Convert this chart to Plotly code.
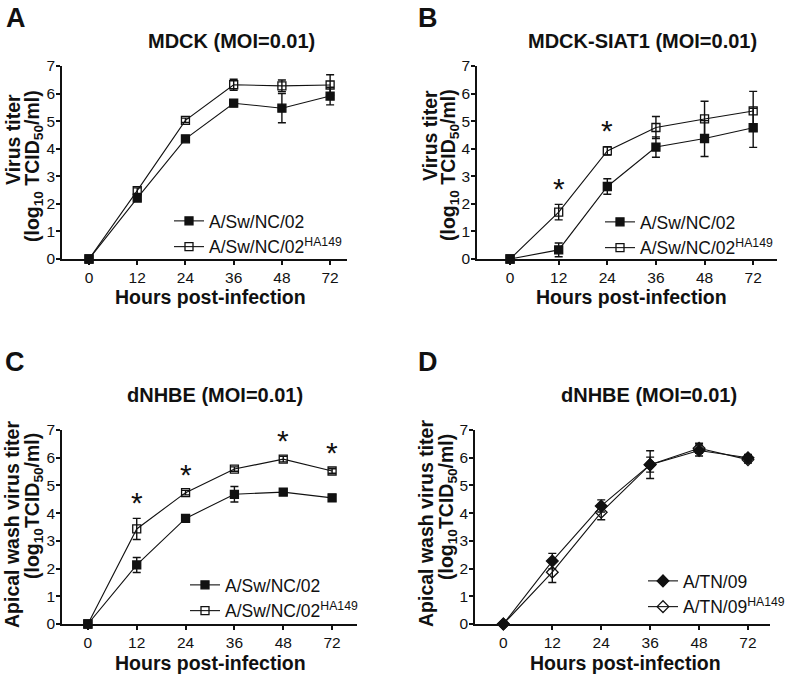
import plotly.graph_objects as go

W, H = 787, 676

# ---------------- data ----------------
hours = ["0", "12", "24", "36", "48", "72"]

# Panel A: MDCK
A_wt = [0, 2.21, 4.36, 5.65, 5.47, 5.91]
A_wt_err = [0.05, 0.08, 0.08, 0.12, 0.53, 0.32]
A_ha = [0, 2.48, 5.03, 6.32, 6.28, 6.31]
A_ha_err = [0.05, 0.10, 0.08, 0.20, 0.21, 0.37]

# Panel B: MDCK-SIAT1
B_wt = [0, 0.33, 2.63, 4.06, 4.37, 4.76]
B_wt_err = [0.05, 0.25, 0.28, 0.37, 0.65, 0.71]
B_ha = [0, 1.70, 3.92, 4.77, 5.08, 5.37]
B_ha_err = [0.05, 0.28, 0.15, 0.40, 0.64, 0.71]
B_sig = [1, 2]

# Panel C: dNHBE, A/Sw/NC/02
C_wt = [0, 2.13, 3.81, 4.68, 4.76, 4.55]
C_wt_err = [0.05, 0.27, 0.07, 0.28, 0.10, 0.12]
C_ha = [0, 3.43, 4.74, 5.59, 5.95, 5.52]
C_ha_err = [0.05, 0.38, 0.08, 0.08, 0.10, 0.08]
C_sig = [1, 2, 4, 5]

# Panel D: dNHBE, A/TN/09
D_wt = [0, 2.27, 4.26, 5.75, 6.26, 6.00]
D_wt_err = [0.05, 0.28, 0.22, 0.27, 0.20, 0.12]
D_ha = [0, 1.87, 4.03, 5.75, 6.34, 5.93]
D_ha_err = [0.05, 0.37, 0.27, 0.50, 0.18, 0.12]

names_sw = ["A/Sw/NC/02", "A/Sw/NC/02<sup>HA149</sup>"]
names_tn = ["A/TN/09", "A/TN/09<sup>HA149</sup>"]
titles = ["MDCK (MOI=0.01)", "MDCK-SIAT1 (MOI=0.01)", "dNHBE (MOI=0.01)", "dNHBE (MOI=0.01)"]
ytitles = [["Virus titer", "(log<sub>10</sub> TCID<sub>50</sub>/ml)"],
           ["Virus titer", "(log<sub>10</sub> TCID<sub>50</sub>/ml)"],
           ["Apical wash virus titer", "(log<sub>10</sub>TCID<sub>50</sub>/ml)"],
           ["Apical wash virus titer", "(log<sub>10</sub>TCID<sub>50</sub>/ml)"]]
xtitle = "Hours post-infection"
letters = ["A", "B", "C", "D"]

FONT = "Liberation Sans, Arial, Helvetica, sans-serif"
INK = "#111111"

def fx(px):
    return px / W

def fy(py):
    return 1 - py / H

# layout per panel (pixels)
panels = [
    dict(x0=62, x1=347, ytop=66, ybot=259, xr=[-0.56, 5.35],
         series=[(A_wt, A_wt_err), (A_ha, A_ha_err)], names=names_sw, sym=["square", "square-open"],
         sig=[], title_xy=(232, 41), letter_xy=(16, 18), yt=[(13, 140), (33, 166)],
         xt_xy=(210, 297), leg_xy=(169, 203)),
    dict(x0=477, x1=777, ytop=66, ybot=259, xr=[-0.68, 5.49],
         series=[(B_wt, B_wt_err), (B_ha, B_ha_err)], names=names_sw, sym=["square", "square-open"],
         sig=B_sig, title_xy=(642, 41), letter_xy=(428, 18), yt=[(430, 136), (450, 165)],
         xt_xy=(631, 297), leg_xy=(600, 204)),
    dict(x0=62, x1=357, ytop=430, ybot=624, xr=[-0.53, 5.51],
         series=[(C_wt, C_wt_err), (C_ha, C_ha_err)], names=names_sw, sym=["square", "square-open"],
         sig=C_sig, title_xy=(215, 395), letter_xy=(15, 362), yt=[(12, 525), (33, 506)],
         xt_xy=(210, 663), leg_xy=(185, 567)),
    dict(x0=475, x1=770, ytop=430, ybot=624, xr=[-0.58, 5.45],
         series=[(D_wt, D_wt_err), (D_ha, D_ha_err)], names=names_tn, sym=["diamond", "diamond-open"],
         sig=[], title_xy=(649, 395), letter_xy=(428, 362), yt=[(426, 524), (447, 507)],
         xt_xy=(625, 663), leg_xy=(643, 563)),
]

fig = go.Figure()
annotations = []
layout = dict(
    width=W, height=H, margin=dict(l=0, r=0, t=0, b=0, autoexpand=False),
    paper_bgcolor="white", plot_bgcolor="white", showlegend=True,
    font=dict(family=FONT, color=INK),
)

xpos = list(range(len(hours)))

for i, p in enumerate(panels):
    k = "" if i == 0 else str(i + 1)
    xa, ya = "x" + k, "y" + k
    leg = "legend" + k
    for j, (vals, errs) in enumerate(p["series"]):
        msize = 8 if "square" in p["sym"][j] else 9
        fig.add_trace(go.Scatter(
            x=xpos, y=vals, xaxis=xa, yaxis=ya, legend=leg,
            name=p["names"][j], mode="lines+markers", cliponaxis=False,
            line=dict(color=INK, width=1.1),
            marker=dict(symbol=p["sym"][j], size=msize, color=INK,
                        line=dict(color=INK, width=1.3)),
            error_y=dict(type="data", array=errs, visible=True, color=INK,
                         thickness=1.4, width=4),
        ))
    # significance asterisks above the HA149 series
    ha_vals, ha_err = p["series"][1]
    for idx in p["sig"]:
        annotations.append(dict(
            x=xpos[idx], y=ha_vals[idx] + ha_err[idx] + 0.8, xref=xa, yref=ya,
            text="*", showarrow=False, yshift=-6,
            font=dict(family=FONT, size=30, color=INK), xanchor="center", yanchor="middle"))
    axis_common = dict(showline=True, linecolor=INK, linewidth=1.5, ticks="outside",
                       ticklen=4, tickwidth=1.5, tickcolor=INK, showgrid=False, zeroline=False,
                       tickfont=dict(family=FONT, size=15.5, color=INK), fixedrange=True)
    layout["xaxis" + k] = dict(domain=[fx(p["x0"]), fx(p["x1"])], range=p["xr"], anchor=ya,
                               tickmode="array", tickvals=xpos, ticktext=hours, **axis_common)
    layout["yaxis" + k] = dict(domain=[fy(p["ybot"]), fy(p["ytop"])], range=[0, 7], anchor=xa,
                               tickmode="linear", tick0=0, dtick=1, ticklabelstandoff=-2, **axis_common)
    layout[leg] = dict(x=fx(p["leg_xy"][0]), y=fy(p["leg_xy"][1]), xanchor="left", yanchor="top",
                       bgcolor="rgba(0,0,0,0)", borderwidth=0, tracegroupgap=0,
                       font=dict(family=FONT, size=17.5, color=INK))
    # title
    annotations.append(dict(x=fx(p["title_xy"][0]), y=fy(p["title_xy"][1]), xref="paper", yref="paper",
                            text="<b>%s</b>" % titles[i], showarrow=False, xanchor="center", yanchor="middle",
                            font=dict(family=FONT, size=20, color=INK)))
    # panel letter
    annotations.append(dict(x=fx(p["letter_xy"][0]), y=fy(p["letter_xy"][1]), xref="paper", yref="paper",
                            text="<b>%s</b>" % letters[i], showarrow=False, xanchor="center", yanchor="middle",
                            font=dict(family=FONT, size=27, color=INK)))
    # x axis title
    annotations.append(dict(x=fx(p["xt_xy"][0]), y=fy(p["xt_xy"][1]), xref="paper", yref="paper",
                            text="<b>%s</b>" % xtitle, showarrow=False, xanchor="center", yanchor="middle",
                            font=dict(family=FONT, size=19.5, color=INK)))
    # y axis title (two lines)
    for (tx, ty), t in zip(p["yt"], ytitles[i]):
        annotations.append(dict(x=fx(tx), y=fy(ty), xref="paper", yref="paper", textangle=-90,
                                text="<b>%s</b>" % t, showarrow=False, xanchor="center", yanchor="middle",
                                font=dict(family=FONT, size=19.5, color=INK)))

layout["annotations"] = annotations
fig.update_layout(**layout)
fig.write_html("out.html", config={"displayModeBar": False},
               post_script="document.body.style.margin='0';document.body.style.overflow='hidden';")
